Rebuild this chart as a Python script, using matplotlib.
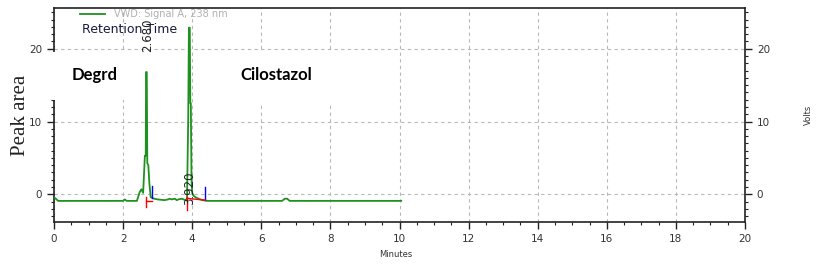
import matplotlib

matplotlib.use("Agg")
import matplotlib.pyplot as plt
from matplotlib.patches import Rectangle
from matplotlib.ticker import MultipleLocator

# chromatogram trace (minutes, volts)
time_min = [0.0, 0.05, 0.12, 0.3, 2.0, 2.05, 2.1, 2.4, 2.48, 2.53, 2.58, 2.63, 2.655, 2.665,
            2.685, 2.70, 2.73, 2.76, 2.80, 2.9, 3.0, 3.2, 3.3, 3.35, 3.4, 3.5, 3.55, 3.6, 3.7,
            3.8, 3.85, 3.885, 3.905, 3.93, 3.945, 3.96, 3.98, 4.0, 4.04, 4.1, 4.18, 4.3, 4.45,
            6.6, 6.68, 6.75, 6.82, 10.05]
signal = [-0.4, -0.6, -0.9, -0.9, -0.9, -0.7, -0.9, -0.9, 0.3, 0.7, 0.2, 5.3, 5.3, 16.8,
          16.8, 4.3, 4.0, 1.5, -0.4, -0.6, -0.7, -0.8, -0.7, -0.6, -0.7, -0.6, -0.8, -0.7,
          -0.6, -0.8, -0.6, 10.6, 22.9, 22.9, 12.5, 12.5, 2.0, 0.2, -0.2, -0.4, -0.6, -0.8,
          -0.9, -0.9, -0.6, -0.6, -0.9, -0.9]

# peak integration marks: start (red) / end (blue) ticks and baseline
peak_start = [2.65, 3.84]
peak_start_lo = [-1.75, -2.1]
peak_start_hi = [-0.4, -0.4]
peak_end = [2.83, 4.38]
peak_end_lo = [-0.5, -0.8]
peak_end_hi = [1.2, 1.0]
base_y0 = [-0.9, -0.55]
base_y1 = [-0.9, -0.8]

peak_labels = ["2.680", "3.920"]
peak_label_x = [2.72, 3.92]
peak_label_y = [21.8, 0.8]

names = ["Degrd", "Cilostazol"]
name_x = [0.52, 5.38]
name_y = [16.4, 16.4]
# white label boxes (x0, x1, y0, y1) that hide the grid behind the names
box_x0 = [-0.17, 4.2]
box_x1 = [2.2, 9.7]
box_y0 = [13.0, 12.6]
box_y1 = [19.5, 19.5]

GREEN = "#1f911f"
TICK_COLOR = "#333333"

fig = plt.figure(figsize=(8.17, 2.65), dpi=100)
ax = fig.add_axes([0.0661, 0.1623, 0.8458, 0.8075])

ax.plot(time_min, signal, color=GREEN, lw=1.3, label="VWD: Signal A, 238 nm", zorder=3)

for xs, lo, hi in zip(peak_start, peak_start_lo, peak_start_hi):
    ax.plot([xs, xs], [lo, hi], color="red", lw=1.0, zorder=4)
for xe, lo, hi in zip(peak_end, peak_end_lo, peak_end_hi):
    ax.plot([xe, xe], [lo, hi], color="blue", lw=1.0, zorder=4)
for xs, xe, y0, y1 in zip(peak_start, peak_end, base_y0, base_y1):
    ax.plot([xs, xe], [y0, y1], color="red", lw=1.0, zorder=4)

for lab, x, y in zip(peak_labels, peak_label_x, peak_label_y):
    ax.text(x, y, lab, rotation=90, ha="center", va="center", fontsize=8.5,
            color="#222222", zorder=5)

for x0, x1, y0, y1 in zip(box_x0, box_x1, box_y0, box_y1):
    ax.add_patch(Rectangle((x0, y0), x1 - x0, y1 - y0, facecolor="white",
                           edgecolor="none", clip_on=False, zorder=2.6))

for nm, x, y in zip(names, name_x, name_y):
    ax.text(x, y, nm, fontsize=12, fontweight="bold", family="Lato", color="black",
            va="center", ha="left", zorder=6)

ax.set_xlim(0, 20)
ax.set_ylim(-3.8, 25.6)
ax.xaxis.set_major_locator(MultipleLocator(2))
ax.xaxis.set_minor_locator(MultipleLocator(0.5))
ax.yaxis.set_major_locator(MultipleLocator(10))
ax.yaxis.set_minor_locator(MultipleLocator(1))
ax.grid(True, which="major", color="#b8b8b8", ls=(0, (3, 3)), lw=0.8)
ax.set_axisbelow(True)

ax.tick_params(which="both", direction="out", colors="#222222", labelcolor=TICK_COLOR,
               labelsize=7.5, top=False, right=False)
ax.tick_params(which="major", length=5, width=1.0)
ax.tick_params(which="minor", length=2.5, width=0.8)
for sp in ax.spines.values():
    sp.set_color("#222222")
    sp.set_linewidth(1.2)

ax2 = ax.twinx()
ax2.set_ylim(ax.get_ylim())
ax2.yaxis.set_major_locator(MultipleLocator(10))
ax2.yaxis.set_minor_locator(MultipleLocator(1))
ax2.tick_params(which="both", direction="out", colors="#222222", labelcolor=TICK_COLOR,
                labelsize=7.5)
ax2.tick_params(which="major", length=5, width=1.0)
ax2.tick_params(which="minor", length=2.5, width=0.8)
for sp in ax2.spines.values():
    sp.set_visible(False)

leg = ax.legend(loc="upper left", bbox_to_anchor=(0.025, 1.035), frameon=False,
                fontsize=7, handlelength=2.6, handletextpad=0.9, labelcolor="#b0b0b0")
ax.text(0.04, 0.9, "Retention Time", transform=ax.transAxes, fontsize=9,
        color="#1a1a40", va="center", ha="left", zorder=5)

fig.text(0.025, 0.565, "Peak area", rotation=90, ha="center", va="center",
         fontsize=15, family="Liberation Serif", color="#222222")
fig.text(0.99, 0.565, "Volts", rotation=90, ha="center", va="center",
         fontsize=6, color="#333333")
fig.text(0.484, 0.04, "Minutes", ha="center", va="center", fontsize=6, color="#333333")

fig.savefig("out.png", dpi=100)
